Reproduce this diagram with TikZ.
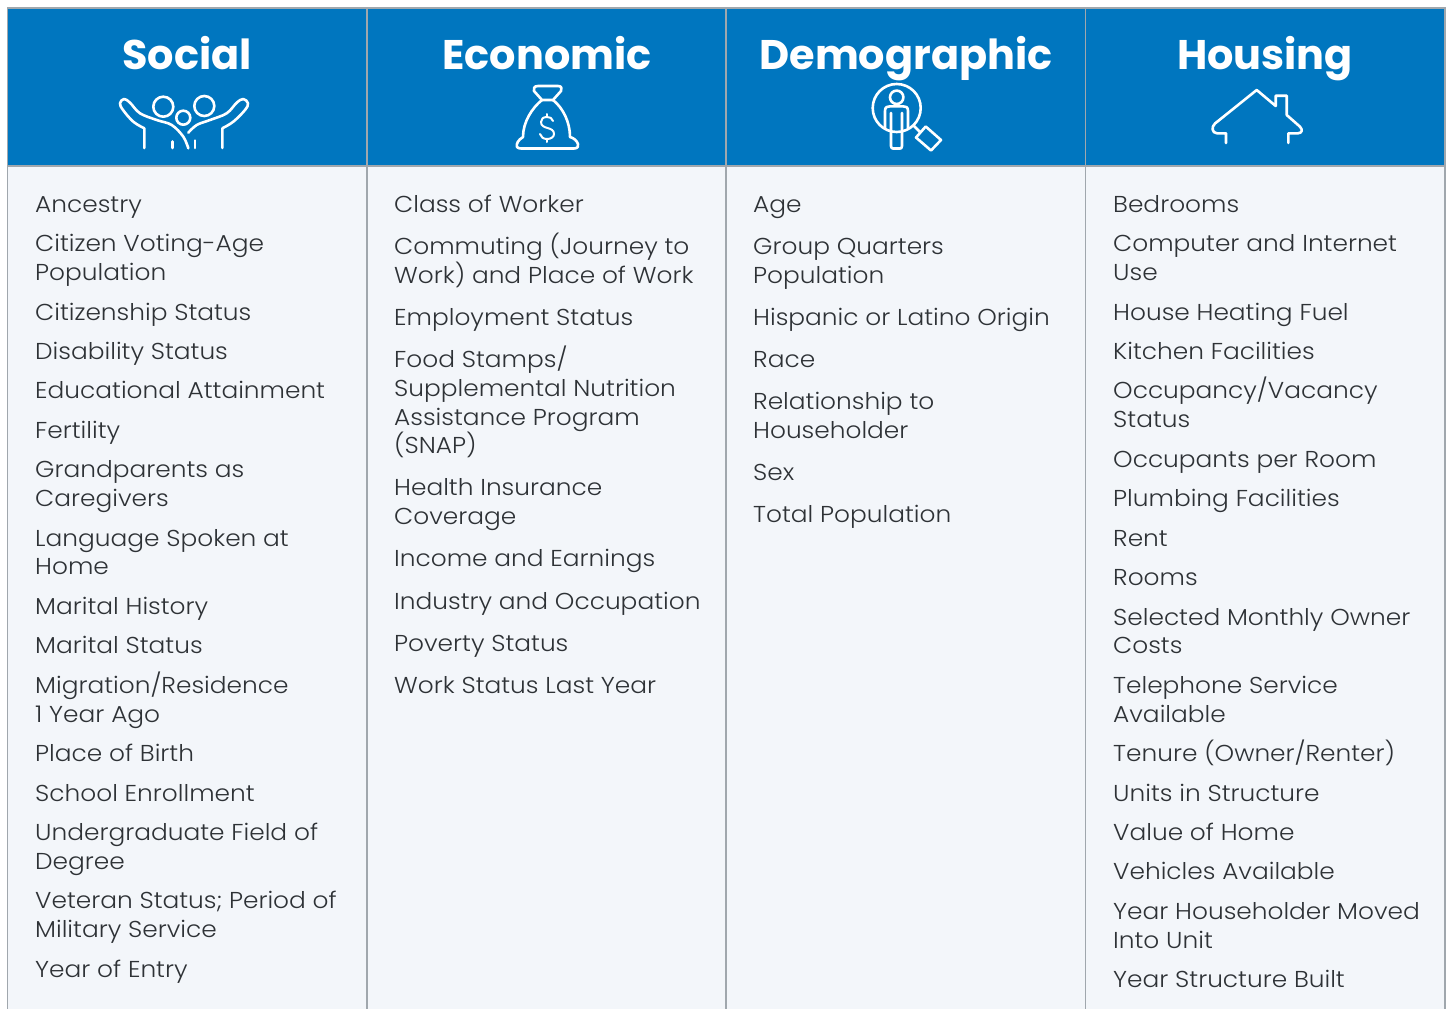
\documentclass[tikz,border=0pt]{standalone}
\usepackage{fontspec}
\setmainfont{Poppins Light}[FakeStretch=1.08]
\newfontfamily\titlefont{Poppins Bold}
\definecolor{hdr}{HTML}{0076BF}
\definecolor{bodybg}{HTML}{F3F6FA}
\definecolor{rulec}{HTML}{A0A7AD}
\definecolor{txt}{HTML}{2E3236}
\tikzset{
  itemtext/.style={anchor=north west,inner sep=0pt,align=left,text=txt,font=\fontsize{23}{29}\selectfont},
  title/.style={anchor=base,inner sep=0pt,text=white,font=\fontsize{41.4}{46}\titlefont},
  icon/.style={draw=white,line width=2.6pt,line cap=round,line join=round},
  colrule/.style={draw=rulec,line width=1.4pt}
}
\newcommand{\itm}[4][]{\node[itemtext] (#1) at (#2,#3-21) {\rule{0pt}{21pt}#4};}
\begin{document}
\begin{tikzpicture}[x=1pt,y=-1pt]
\useasboundingbox (0,0) rectangle (1448,1009);
\fill[white] (0,0) rectangle (1448,1009);
\fill[bodybg] (7.5,166) rectangle (1445,1009);
\fill[hdr] (7.5,8) rectangle (1445,166);
\draw[colrule] (7.5,1009) -- (7.5,8) -- (1445,8) -- (1445,1009);
\draw[colrule] (367,8) -- (367,1009);
\draw[colrule] (726,8) -- (726,1009);
\draw[colrule] (1085.5,8) -- (1085.5,1009);
\draw[colrule] (7.5,166) -- (1445,166);
\node[title] (t1) at (187,69) {Social};
\node[title] (t2) at (547,69) {Economic};
\node[title] (t3) at (906,69) {Demographic};
\node[title] (t4) at (1265,69) {Housing};
% Social icon
\draw[icon] (144.3,148) -- (144.3,128.3) plot[smooth,tension=.6] coordinates {(144.3,128.3) (133.3,121.7) (123,110) (120,103.3) (124,99) (130,102.7) (140,113.3) (156.7,120) (171.7,125) (183.3,136.7) (188.3,148.3)};
\draw[icon] (222.3,148) -- (222.3,128.3) plot[smooth,tension=.6] coordinates {(222.3,128.3) (233.3,121.7) (245,110) (248,103.3) (243.3,99) (236.7,102.7) (226.7,113.3) (210,120) (196.7,125) (188.3,132.7)};
\draw[icon] (172.3,141.5) -- (172.3,148);
\draw[icon] (195,140.5) -- (195,148);
\draw[icon] (163.3,106.7) circle (10);
\draw[icon] (204.3,106) circle (10);
\draw[icon] (183.3,117.7) circle (7);
% Economic icon
\draw[icon] (538,86) -- (558,86) .. controls (562,86) and (562,89) .. (561,91) -- (553,100) -- (542,100) -- (534,91) .. controls (533,89) and (534,86) .. (538,86) -- cycle;
\draw[icon] (542,100) .. controls (532,108) and (523,122) .. (523,137) .. controls (518,140) and (516,144) .. (517,147) .. controls (518,148) and (519,148.5) .. (521,148.5) -- (574,148.5) .. controls (578,148.5) and (578.5,146) .. (578,144) .. controls (577,141) and (574,138) .. (570,137) .. controls (570,122) and (563,108) .. (553,100);
\draw[icon,line width=2pt] (553,121) .. controls (552,118) and (550,117) .. (547,117) .. controls (543,117) and (541,119) .. (541,122) .. controls (541,130) and (554,126) .. (554,134) .. controls (554,137) and (551,139) .. (547,139) .. controls (543,139) and (541,137) .. (540,134);
\draw[icon,line width=2pt] (547,114) -- (547,117);
\draw[icon,line width=2pt] (547,139) -- (547,142);
% Demographic icon
\draw[icon] (896.7,108) circle (24);
\draw[icon] (896.7,97.3) circle (6.7);
\draw[icon] (885,128) -- (885,111) .. controls (885,107) and (887,106.3) .. (890,106.3) -- (903,106.3) .. controls (906,106.3) and (908,107) .. (908,111) -- (908,128);
\draw[icon] (891,113) -- (891,146) .. controls (891,148) and (892,148.5) .. (893,148.5) -- (900,148.5) .. controls (901,148.5) and (902,148) .. (902,146) -- (902,113);
\draw[icon] (914,126) -- (920,132);
\draw[icon] (925.7,126.5) -- (941,140) -- (931,150.5) -- (916,137.5) -- cycle;
% Housing icon
\draw[icon] (1226,143) -- (1226,133.3) -- (1217,133.3) .. controls (1212,133) and (1211,127) .. (1215,123.5) -- (1256.7,90) -- (1275.7,106) -- (1275.7,95.7) -- (1286.7,95.7) -- (1286.7,115) -- (1300,126.7) .. controls (1303,130) and (1302,133) .. (1298,133.3) -- (1288.3,133.3) -- (1288.3,143);
% Social
\itm[s1]{35}{212}{Ancestry}
\itm[s2]{35}{251}{Citizen Voting-Age\\Population}
\itm[s3]{35}{320}{Citizenship Status}
\itm[s4]{35}{359}{Disability Status}
\itm[s5]{35}{398}{Educational Attainment}
\itm[s6]{35}{438}{Fertility}
\itm[s7]{35}{477}{Grandparents as\\Caregivers}
\itm[s8]{35}{546}{Language Spoken at\\[-1pt]Home}
\itm[s9]{35}{614}{Marital History}
\itm[s10]{35}{653}{Marital Status}
\itm[s11]{35}{693}{Migration/Residence\\1 Year Ago}
\itm[s12]{35}{761}{Place of Birth}
\itm[s13]{35}{801}{School Enrollment}
\itm[s14]{35}{840}{Undergraduate Field of\\Degree}
\itm[s15]{35}{908}{Veteran Status; Period of\\Military Service}
\itm[s16]{35}{977}{Year of Entry}
% Economic
\itm[e1]{394}{212}{Class of Worker}
\itm[e2]{394}{254}{Commuting (Journey to\\Work) and Place of Work}
\itm[e3]{394}{325}{Employment Status}
\itm[e4]{394}{367}{Food Stamps/\\Supplemental Nutrition\\Assistance Program\\[-1pt](SNAP)}
\itm[e5]{394}{495}{Health Insurance\\Coverage}
\itm[e6]{394}{566}{Income and Earnings}
\itm[e7]{394}{609}{Industry and Occupation}
\itm[e8]{394}{651}{Poverty Status}
\itm[e9]{394}{693}{Work Status Last Year}
% Demographic
\itm[d1]{753}{212}{Age}
\itm[d2]{753}{254}{Group Quarters\\Population}
\itm[d3]{753}{325}{Hispanic or Latino Origin}
\itm[d4]{753}{367}{Race}
\itm[d5]{753}{409}{Relationship to\\Householder}
\itm[d6]{753}{480}{Sex}
\itm[d7]{753}{522}{Total Population}
% Housing
\itm[h1]{1113}{212}{Bedrooms}
\itm[h2]{1113}{251}{Computer and Internet\\Use}
\itm[h3]{1113}{320}{House Heating Fuel}
\itm[h4]{1113}{359}{Kitchen Facilities}
\itm[h5]{1113}{398}{Occupancy/Vacancy\\Status}
\itm[h6]{1113}{467}{Occupants per Room}
\itm[h7]{1113}{506}{Plumbing Facilities}
\itm[h8]{1113}{546}{Rent}
\itm[h9]{1113}{585}{Rooms}
\itm[h10]{1113}{625}{Selected Monthly Owner\\[-1pt]Costs}
\itm[h11]{1113}{693}{Telephone Service\\Available}
\itm[h12]{1113}{761}{Tenure (Owner/Renter)}
\itm[h13]{1113}{801}{Units in Structure}
\itm[h14]{1113}{840}{Value of Home}
\itm[h15]{1113}{879}{Vehicles Available}
\itm[h16]{1113}{919}{Year Householder Moved\\Into Unit}
\itm[h17]{1113}{987}{Year Structure Built}
\end{tikzpicture}
\end{document}
